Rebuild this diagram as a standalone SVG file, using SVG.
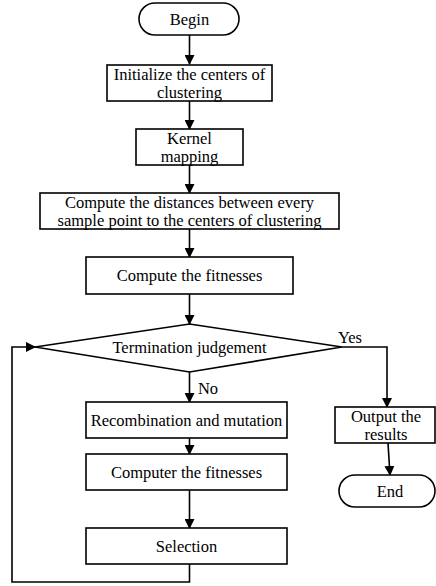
<svg xmlns="http://www.w3.org/2000/svg" width="436" height="586" viewBox="0 0 436 586">
<style>
.n{fill:#fff;stroke:#000;stroke-width:1.6}
.t{font-family:'Liberation Serif','DejaVu Serif',serif;font-size:16.5px;fill:#000;text-anchor:middle;dominant-baseline:central}
.c{fill:none;stroke:#000;stroke-width:1.6}
</style>
<defs>
<marker id="a" markerWidth="10" markerHeight="10" refX="9" refY="5" orient="auto" markerUnits="userSpaceOnUse"><path d="M0,0 L10,5 L0,10 Z" fill="#000"/></marker>
</defs>
<rect width="436" height="586" fill="#fff"/>
<g id="connectors">
<path class="c" d="M189.5,35 V64" marker-end="url(#a)"/>
<path class="c" d="M189.5,101 V129" marker-end="url(#a)"/>
<path class="c" d="M189.5,165 V193" marker-end="url(#a)"/>
<path class="c" d="M189.5,229 V257" marker-end="url(#a)"/>
<path class="c" d="M189.5,294 V324" marker-end="url(#a)"/>
<path class="c" d="M189.5,372 V402" marker-end="url(#a)"/>
<path class="c" d="M189.5,438 V454" marker-end="url(#a)"/>
<path class="c" d="M189.5,490 V528" marker-end="url(#a)"/>
<path class="c" d="M189.5,564 V582 H12 V347 H35" marker-end="url(#a)"/>
<path class="c" d="M342,347 H387 V407" marker-end="url(#a)"/>
<path class="c" d="M388,443 L390,475" marker-end="url(#a)"/>
<text class="t" x="350" y="337">Yes</text>
<text class="t" x="208" y="388">No</text>
</g>
<g id="begin"><rect class="n" x="139" y="3" width="100" height="32" rx="16"/><text class="t" x="189.5" y="19">Begin</text></g>
<g id="init"><rect class="n" x="107" y="65" width="165" height="36"/><text class="t" x="189.5" y="74">Initialize the centers of</text><text class="t" x="189.5" y="92">clustering</text></g>
<g id="kernel"><rect class="n" x="136" y="129" width="107" height="36"/><text class="t" x="189.5" y="138">Kernel</text><text class="t" x="189.5" y="156">mapping</text></g>
<g id="distances"><rect class="n" x="40" y="193" width="299" height="36"/><text class="t" x="189.5" y="202">Compute the distances between every</text><text class="t" x="189.5" y="220">sample point to the centers of clustering</text></g>
<g id="fitness"><rect class="n" x="86" y="257" width="207" height="37"/><text class="t" x="189.5" y="275.5">Compute the fitnesses</text></g>
<g id="judge"><path class="n" d="M189.5,324 L342,347 L189.5,372 L35,347 Z"/><text class="t" x="189.5" y="347">Termination judgement</text></g>
<g id="recomb"><rect class="n" x="86" y="402" width="201" height="36"/><text class="t" x="186.5" y="420">Recombination and mutation</text></g>
<g id="computer"><rect class="n" x="86" y="454" width="201" height="36"/><text class="t" x="186.5" y="472">Computer the fitnesses</text></g>
<g id="selection"><rect class="n" x="86" y="528" width="201" height="36"/><text class="t" x="186.5" y="546">Selection</text></g>
<g id="output"><rect class="n" x="335" y="407" width="100" height="36"/><text class="t" x="386" y="416">Output the</text><text class="t" x="386" y="434">results</text></g>
<g id="end"><rect class="n" x="339" y="475" width="96" height="32" rx="16"/><text class="t" x="390" y="491">End</text></g>
</svg>
